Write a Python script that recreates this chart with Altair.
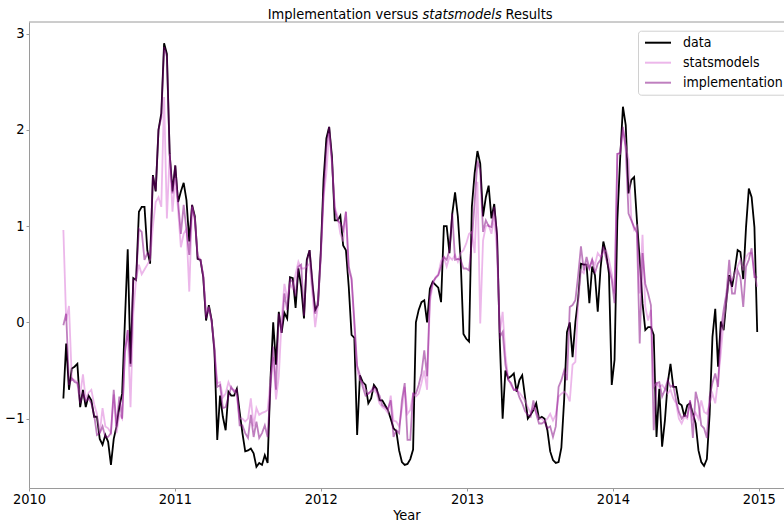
import altair as alt
import pandas as pd

# Weekly observations and the two fitted series
start_week = "2010-03-28"
n_weeks = 249

data_vals = [
    -0.79, -0.22, -0.70, -0.48, -0.46, -0.43, -0.88, -0.70, -0.88, -0.76,
    -0.81, -0.98, -0.98, -1.21, -1.27, -1.17, -1.24, -1.48, -1.21, -1.08,
    -0.88, -0.74, 0.02, 0.76, -0.43, 0.46, 0.44, 1.15, 1.20, 1.20,
    0.75, 0.61, 1.53, 1.36, 2.00, 2.17, 2.90, 2.79, 1.75, 1.36,
    1.63, 1.25, 1.36, 1.45, 1.27, 0.84, 1.22, 1.10, 0.66, 0.65,
    0.47, 0.02, 0.18, 0.02, -0.29, -1.22, -0.76, -0.98, -1.12, -0.72,
    -0.76, -0.76, -0.69, -0.93, -1.15, -1.34, -1.33, -1.31, -1.36, -1.50,
    -1.46, -1.48, -1.38, -1.46, -0.60, 0.00, -0.44, 0.11, -0.11, 0.10,
    0.04, 0.47, 0.46, 0.15, 0.56, 0.37, 0.04, 0.65, 0.75, 0.40,
    0.13, 0.18, 0.72, 1.48, 1.91, 2.03, 1.72, 1.06, 1.06, 1.11,
    0.80, 0.75, 0.37, -0.13, -0.16, -1.17, -0.55, -0.62, -0.65, -0.84,
    -0.79, -0.65, -0.69, -0.81, -0.81, -0.86, -0.91, -1.00, -1.10, -1.13,
    -1.33, -1.45, -1.48, -1.47, -1.42, -1.32, 0.00, 0.13, 0.21, 0.23,
    0.00, 0.35, 0.42, 0.39, 0.36, 0.21, 1.00, 1.00, 0.72, 1.13,
    1.35, 1.10, 0.65, -0.12, -0.17, -0.20, 1.20, 1.55, 1.78, 1.65,
    1.10, 1.30, 1.42, 1.08, 1.23, 0.90, -0.20, -1.00, -0.50, -0.58,
    -0.56, -0.53, -0.72, -0.60, -0.55, -0.77, -1.00, -0.96, -0.91, -0.84,
    -1.00, -0.98, -1.00, -1.12, -1.34, -1.43, -1.46, -1.45, -1.30, -0.80,
    -0.10, 0.00, -0.36, 0.00, 0.25, 0.61, 0.60, 0.60, 0.20, 0.58,
    0.49, 0.11, 0.56, 0.84, 0.72, 0.51, -0.65, -0.39, 1.06, 1.70,
    2.24, 2.05, 1.34, 1.48, 1.51, 1.06, 0.65, 0.20, -0.08, -0.05,
    -0.05, -0.13, -1.19, -0.69, -1.29, -1.02, -0.63, -0.43, -0.67, -0.67,
    -0.84, -0.86, -0.98, -0.86, -0.84, -0.95, -1.05, -1.33, -1.45, -1.49,
    -1.42, -0.95, -0.15, 0.14, -0.46, 0.01, -0.08, 0.23, 0.49, 0.37,
    0.54, 0.75, 0.73, 0.45, 0.99, 1.39, 1.30, 0.99, -0.10,
]

statsmodels_vals = [
    0.96, 0.02, 0.17, -0.58, -0.60, -0.62, -0.75, -0.54, -0.80, -0.73,
    -0.70, -0.85, -0.95, -1.15, -0.89, -1.08, -1.10, -1.15, -0.75, -1.15,
    -0.95, -1.00, -0.30, -0.08, -0.88, 0.10, 0.45, 0.60, 0.50, 0.55,
    0.60, 0.65, 1.00, 1.25, 1.30, 1.20, 2.34, 1.08, 1.75, 1.15,
    1.50, 1.17, 0.78, 0.92, 0.97, 0.32, 1.20, 1.08, 0.70, 0.65,
    0.50, 0.10, 0.15, 0.00, -0.25, -0.63, -0.62, -0.78, -0.74, -0.62,
    -0.69, -0.70, -0.77, -1.00, -1.00, -1.03, -1.00, -0.79, -1.08, -0.89,
    -0.96, -0.94, -0.93, -0.91, -0.60, -0.36, -0.80, -0.56, 0.02, 0.40,
    0.25, 0.40, 0.35, 0.50, 0.63, 0.56, 0.56, 0.58, 0.61, 0.30,
    -0.05, 0.18, 0.65, 1.30, 1.55, 1.96, 1.65, 1.20, 1.10, 0.92,
    0.84, 1.15, 0.53, 0.44, -0.05, -0.50, -0.60, -0.63, -0.70, -0.74,
    -0.72, -0.70, -0.74, -0.84, -0.88, -0.90, -0.94, -0.76, -1.02, -1.03,
    -1.08, -0.90, -0.67, -0.95, -0.91, -0.74, -0.77, -0.74, -0.63, -0.50,
    -0.70, 0.21, 0.39, 0.47, 0.50, 0.64, 0.68, 0.58, 0.68, 0.65,
    0.70, 0.63, 0.72, 0.75, 0.82, 0.92, 0.94, 0.72, 1.46, -0.01,
    0.85, 1.00, 1.01, 0.92, 1.10, 0.72, -0.11, 0.11, -0.34, -0.58,
    -0.65, -0.70, -0.70, -0.73, -0.77, -0.81, -0.88, -0.94, -0.88, -0.93,
    -1.00, -1.00, -1.03, -1.00, -0.95, -1.02, -0.96, -0.77, -0.74, -0.72,
    -0.75, -0.82, -0.44, -0.41, 0.21, 0.54, 0.51, 0.61, 0.56, 0.65,
    0.60, 0.72, 0.68, 0.72, 0.75, 0.65, 0.51, 0.30, 1.75, 1.75,
    2.00, 1.84, 1.69, 1.08, 0.96, 1.00, 0.30, 0.91, 0.16, 0.02,
    0.13, -0.67, -0.63, -0.67, -0.65, -0.69, -0.74, -0.70, -0.79, -0.84,
    -1.00, -1.05, -0.98, -1.00, -0.81, -1.00, -0.94, -1.00, -0.81, -0.93,
    -0.95, -0.84, -0.74, -0.84, -0.60, -0.32, 0.02, 0.23, 0.47, 0.44,
    0.51, 0.58, 0.65, 0.54, 0.68, 0.72, 0.72, 0.51, 0.37,
]

implementation_vals = [
    -0.03, 0.09, -0.65, -0.58, -0.62, -0.63, -0.84, -0.74, -0.82, -0.79,
    -0.84, -0.96, -1.17, -1.15, -1.08, -1.19, -1.19, -1.15, -0.70, -1.08,
    -0.77, -1.00, -0.32, -0.08, -0.46, 0.44, 0.46, 0.97, 0.94, 0.65,
    0.72, 0.68, 1.52, 1.37, 2.00, 2.13, 2.86, 2.76, 1.75, 1.34,
    1.63, 1.25, 0.92, 1.22, 0.96, 0.70, 1.22, 1.06, 0.66, 0.65,
    0.47, 0.04, 0.16, 0.02, -0.32, -0.67, -0.65, -0.89, -0.88, -0.77,
    -0.67, -0.72, -0.70, -1.07, -1.07, -1.15, -1.20, -0.96, -1.19, -1.03,
    -1.20, -1.15, -1.07, -1.19, -0.70, -0.25, -0.70, 0.09, -0.11, 0.30,
    0.13, 0.45, 0.42, 0.27, 0.58, 0.60, 0.07, 0.63, 0.75, 0.44,
    0.09, 0.23, 0.72, 1.34, 1.82, 2.03, 1.68, 1.17, 1.06, 1.03,
    0.96, 1.15, 0.58, 0.46, 0.02, -0.45, -0.55, -0.67, -0.76, -0.74,
    -0.71, -0.67, -0.71, -0.76, -0.86, -0.88, -0.90, -0.81, -1.19, -1.12,
    -1.15, -0.81, -0.63, -1.22, -1.22, -0.74, -0.74, -0.65, -0.53, -0.29,
    -0.56, 0.27, 0.42, 0.46, 0.49, 0.58, 0.68, 0.65, 0.75, 1.13,
    0.65, 0.66, 0.65, 0.56, 0.56, 0.54, 0.85, 1.25, 1.68, 1.58,
    0.94, 1.06, 1.00, 0.99, 1.20, 0.92, -0.15, -0.10, -0.44, -0.60,
    -0.63, -0.70, -0.69, -0.78, -0.84, -0.92, -0.96, -0.98, -0.81, -0.95,
    -1.05, -1.05, -1.03, -1.10, -1.08, -1.19, -1.08, -0.67, -0.60, -0.50,
    -0.60, 0.16, 0.18, 0.23, 0.49, 0.79, 0.54, 0.68, 0.56, 0.65,
    0.51, 0.61, 0.65, 0.79, 0.66, 0.56, 0.44, 0.20, 1.75, 1.76,
    2.03, 1.80, 1.13, 1.06, 0.99, 0.93, -0.22, 0.72, 0.40, 0.30,
    0.18, -1.12, -0.63, -0.62, -0.77, -0.70, -0.60, -0.67, -0.65, -0.81,
    -0.93, -1.00, -0.96, -0.98, -0.81, -1.20, -0.72, -0.84, -1.07, -1.10,
    -1.20, -0.77, -0.63, -0.53, -0.67, -0.08, 0.13, 0.30, 0.65, 0.30,
    0.30, 0.54, 0.47, 0.16, 0.58, 0.65, 0.77, 0.47, 0.47,
]

series_names = ["data", "statsmodels", "implementation"]
series_colors = ["#000000", "rgba(218,112,214,0.5)", "rgba(128,0,128,0.5)"]
year_ticks = [2010, 2011, 2012, 2013, 2014, 2015]
value_ticks = [-1, 0, 1, 2, 3]

weeks = pd.date_range(start_week, periods=n_weeks, freq="7D").strftime("%Y-%m-%dT00:00:00")
frames = [
    pd.DataFrame({"week": weeks, "value": vals, "series": name})
    for name, vals in zip(series_names, [data_vals, statsmodels_vals, implementation_vals])
]
df = pd.concat(frames, ignore_index=True)

FONT = "DejaVu Sans Condensed"
FS = 14.5
SPINE = "#9a9a9a"
W, H = 755, 466

x_enc = alt.X(
    "week:T",
    scale=alt.Scale(domain=[alt.DateTime(year=2010, month=1, date=1),
                            alt.DateTime(year=2015, month=3, date=5)]),
    axis=alt.Axis(
        values=[alt.DateTime(year=y, month=1, date=1) for y in year_ticks],
        format="%Y", title="Year", grid=False, labelFlush=False,
        domainColor=SPINE, tickColor=SPINE, tickSize=3, labelPadding=1.5,
        labelFont=FONT, labelFontSize=FS, labelColor="black",
        titleFont=FONT, titleFontSize=FS, titleFontWeight="normal",
        titleColor="black", titleY=31, titleBaseline="alphabetic",
    ),
)
y_enc = alt.Y(
    "value:Q",
    scale=alt.Scale(domain=[-1.72, 3.12], nice=False, zero=False),
    axis=alt.Axis(
        values=value_ticks, title=None, grid=False, labelFlush=False,
        domainColor=SPINE, tickColor=SPINE, tickSize=3, labelPadding=2,
        labelFont=FONT, labelFontSize=FS, labelColor="black",
        labelExpr="replace(datum.label, '-', '\u2212')",
    ),
)
color_enc = alt.Color(
    "series:N",
    scale=alt.Scale(domain=series_names, range=series_colors),
    legend=alt.Legend(
        title=None, orient="none", legendX=609, legendY=8.7,
        symbolType="M-1,0H4.2", symbolSize=100, symbolStrokeWidth=2,
        labelOffset=26, padding=5, rowPadding=6,
        labelFont=FONT, labelFontSize=14, labelColor="black",
        fillColor="white", strokeColor="#d0d0d0", cornerRadius=3,
    ),
)

lines = [
    alt.Chart(df)
    .transform_filter(alt.datum.series == name)
    .mark_line(strokeWidth=1.8)
    .encode(x=x_enc, y=y_enc, color=color_enc)
    for name in series_names
]

one = pd.DataFrame({"k": [0]})
top_spine = alt.Chart(one).mark_rule(color=SPINE, strokeWidth=1).encode(
    x=alt.value(0), x2=alt.value(W), y=alt.value(0)
)

title_parts = [
    ("Implementation versus", 389.4, "right", "normal"),
    ("statsmodels", 393.5, "left", "italic"),
    ("Results", 476.6, "left", "normal"),
]
title_layers = [
    alt.Chart(pd.DataFrame({"t": [txt]}))
    .mark_text(font=FONT, fontSize=FS, fontStyle=style, align=align,
               baseline="alphabetic", color="black")
    .encode(x=alt.value(px), y=alt.value(-3), text="t:N")
    for txt, px, align, style in title_parts
]

chart = (
    alt.layer(*lines, top_spine, *title_layers)
    .properties(
        width=W, height=H,
        autosize=alt.AutoSizeParams(type="none"),
        padding={"left": 29, "top": 22, "right": 0, "bottom": 35},
    )
    .configure_view(stroke=None)
)

chart.save("out.html", embed_options={"renderer": "svg", "actions": False})
